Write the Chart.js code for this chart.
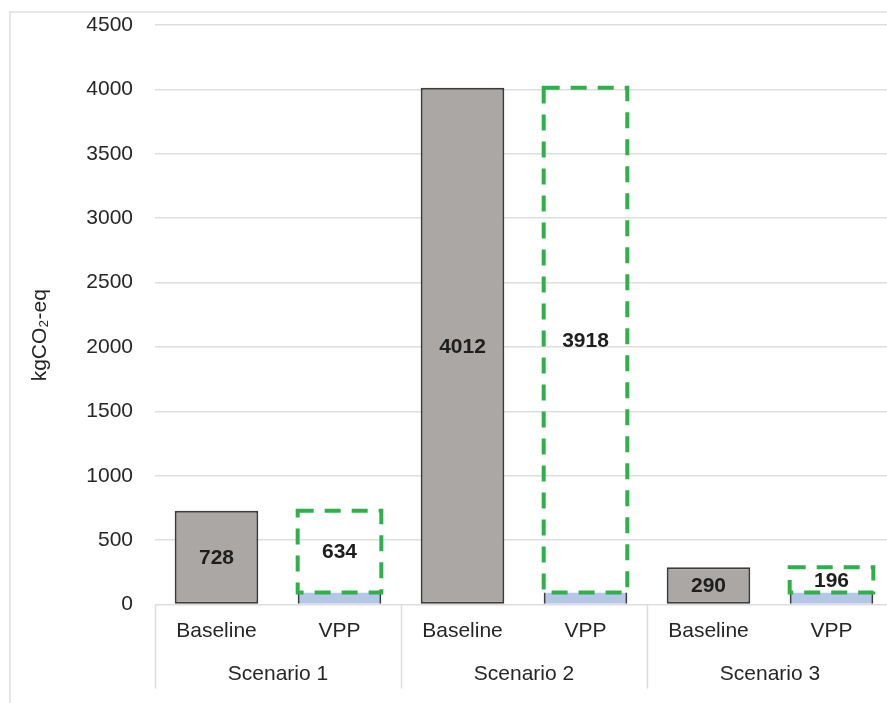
<!DOCTYPE html>
<html>
<head>
<meta charset="utf-8">
<script src="https://cdn.jsdelivr.net/npm/chart.js@4/dist/chart.umd.min.js"></script>
<style>
  html, body { margin: 0; padding: 0; background: #ffffff; overflow: hidden; width: 887px; height: 703px; }
  #frame { position: absolute; left: 9px; top: 11px; width: 1000px; height: 1000px;
           border-left: 2px solid #e6e6e6; border-top: 2px solid #e6e6e6; }
  #wrap { position: absolute; left: 0; top: 0; width: 900px; height: 703px; }
</style>
</head>
<body>
<div id="frame"></div>
<div id="wrap"><canvas id="c" width="900" height="703"></canvas></div>
<script>
// ---- data ----
const categories = ['Baseline', 'VPP', 'Baseline', 'VPP', 'Baseline', 'VPP'];
const scenarios = ['Scenario 1', 'Scenario 2', 'Scenario 3'];
const baselineValues = [728, null, 4012, null, 290, null];
const vppBaseValues = [null, 94, null, 94, null, 94];
const vppRemainingValues = [null, 634, null, 3918, null, 196];
const yTicks = [0, 500, 1000, 1500, 2000, 2500, 3000, 3500, 4000, 4500];
const yTitle = 'kgCO\u2082-eq';

const FONT = "'Liberation Sans', Arial, Helvetica, sans-serif";
const TEXT = '#262626';

const dashedBoxPlugin = {
  id: 'dashedBox',
  afterDatasetsDraw(chart) {
    const ctx = chart.ctx;
    const meta = chart.getDatasetMeta(2);
    ctx.save();
    ctx.strokeStyle = '#2fb04a';
    ctx.lineWidth = 4;
    ctx.setLineDash([16, 11]);
    meta.data.forEach((el, i) => {
      if (vppRemainingValues[i] == null) return;
      const p = el.getProps(['x', 'y', 'base', 'width'], true);
      ctx.strokeRect(p.x - p.width / 2, p.y, p.width, p.base - p.y);
    });
    ctx.restore();
  }
};

const valueLabelPlugin = {
  id: 'valueLabels',
  afterDatasetsDraw(chart) {
    const ctx = chart.ctx;
    ctx.save();
    ctx.font = 'bold 21px ' + FONT;
    ctx.fillStyle = '#1e1e1e';
    ctx.textAlign = 'center';
    ctx.textBaseline = 'middle';
    [0, 2].forEach(di => {
      const meta = chart.getDatasetMeta(di);
      const data = chart.data.datasets[di].data;
      meta.data.forEach((el, i) => {
        if (data[i] == null) return;
        const p = el.getProps(['x', 'y', 'base'], true);
        ctx.fillText(String(data[i]), p.x, (p.y + p.base) / 2 + 1);
      });
    });
    ctx.restore();
  }
};

const separatorPlugin = {
  id: 'separators',
  afterDraw(chart) {
    const ctx = chart.ctx;
    const xs = chart.scales.x;
    const area = chart.chartArea;
    ctx.save();
    ctx.strokeStyle = '#dcdcdc';
    ctx.lineWidth = 1.5;
    for (let i = 0; i <= scenarios.length; i++) {
      const px = Math.round(xs.left + i * xs.width / scenarios.length) + 0.5;
      ctx.beginPath();
      ctx.moveTo(px, area.bottom);
      ctx.lineTo(px, area.bottom + 84);
      ctx.stroke();
    }
    ctx.restore();
  }
};

new Chart(document.getElementById('c'), {
  type: 'bar',
  data: {
    labels: categories,
    datasets: [
      {
        label: 'Baseline',
        data: baselineValues,
        backgroundColor: '#aba7a5',
        borderColor: '#3c3c3c',
        borderWidth: 2,
        borderSkipped: false
      },
      {
        label: 'VPP (remaining)',
        data: vppBaseValues,
        backgroundColor: '#b5c7e6',
        borderColor: '#3c3c3c',
        borderWidth: { left: 2, right: 2, top: 0, bottom: 0 },
        borderSkipped: false
      },
      {
        label: 'VPP (avoided)',
        data: vppRemainingValues,
        backgroundColor: 'rgba(255,255,255,0)',
        borderWidth: 0
      }
    ]
  },
  options: {
    responsive: false,
    animation: false,
    events: [],
    layout: { padding: { top: 25, right: 7, bottom: 12, left: 14 } },
    datasets: { bar: { categoryPercentage: 1, barPercentage: 0.68 } },
    plugins: { legend: { display: false }, tooltip: { enabled: false } },
    scales: {
      y: {
        stacked: true,
        min: 0,
        max: 4500,
        afterBuildTicks: s => { s.ticks = yTicks.map(v => ({ value: v })); },
        afterFit: s => { s.width = 141; },
        ticks: {
          padding: 0,
          color: TEXT,
          font: { family: FONT, size: 21 },
          callback: v => String(v)
        },
        grid: { color: '#dedede', lineWidth: 1.5, drawTicks: true, tickLength: 22, tickColor: 'rgba(0,0,0,0)' },
        border: { display: false },
        title: {
          display: true,
          text: yTitle + '\u00A0\u00A0\u00A0\u00A0\u00A0\u00A0\u00A0',
          color: TEXT,
          font: { family: FONT, size: 21 },
          padding: { top: 14, bottom: 0 }
        }
      },
      x: {
        stacked: true,
        weight: 0,
        grid: { display: false, drawTicks: false },
        border: { display: false },
        ticks: {
          padding: 14,
          color: TEXT,
          font: { family: FONT, size: 21 },
          maxRotation: 0,
          autoSkip: false
        }
      },
      x2: {
        type: 'category',
        position: 'bottom',
        weight: 1,
        labels: scenarios,
        offset: true,
        grid: { display: false, drawTicks: false },
        border: { display: false },
        ticks: {
          padding: 4,
          color: TEXT,
          font: { family: FONT, size: 21 },
          maxRotation: 0,
          autoSkip: false
        }
      }
    }
  },
  plugins: [dashedBoxPlugin, valueLabelPlugin, separatorPlugin]
});
</script>
</body>
</html>
